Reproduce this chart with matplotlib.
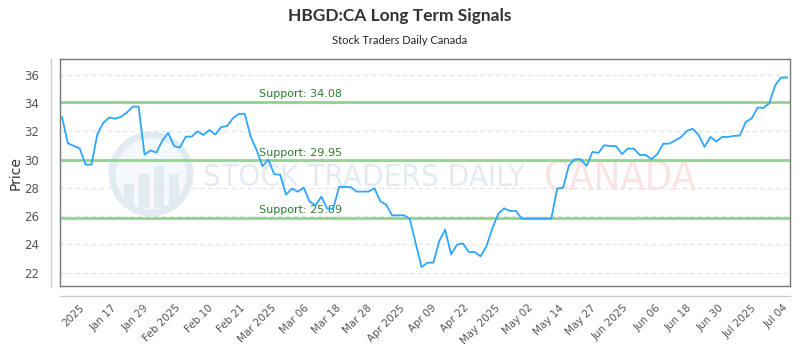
import matplotlib
matplotlib.use("Agg")
import matplotlib.pyplot as plt
import numpy as np
from matplotlib.patches import Ellipse, Rectangle
from matplotlib.lines import Line2D

prices = [
    33.0, 31.16, 30.97, 30.8, 29.65, 29.65, 31.8, 32.6, 32.98, 32.9,
    33.03, 33.33, 33.75, 33.75, 30.35, 30.65, 30.5, 31.33, 31.9, 30.97,
    30.85, 31.63, 31.63, 32.0, 31.75, 32.1, 31.78, 32.3, 32.38, 32.93,
    33.24, 33.24, 31.63, 30.7, 29.53, 30.0, 28.96, 28.94, 27.52, 27.96,
    27.73, 28.02, 27.03, 26.77, 27.38, 26.53, 26.53, 28.07, 28.07, 28.05,
    27.74, 27.74, 27.74, 27.97, 27.05, 26.81, 26.06, 26.06, 26.06, 25.82,
    24.08, 22.4, 22.71, 22.71, 24.24, 25.04, 23.3, 23.98, 24.08, 23.47,
    23.47, 23.16, 23.87, 25.14, 26.16, 26.56, 26.37, 26.37, 25.82, 25.82,
    25.82, 25.82, 25.82, 25.82, 27.95, 28.02, 29.6, 30.03, 30.03, 29.56,
    30.55, 30.48, 31.02, 30.97, 30.95, 30.4, 30.78, 30.78, 30.33, 30.33,
    30.03, 30.4, 31.13, 31.13, 31.35, 31.59, 32.03, 32.18, 31.75, 30.9,
    31.61, 31.28, 31.61, 31.61, 31.68, 31.7, 32.67, 32.91, 33.69, 33.66,
    34.0, 35.27, 35.81, 35.81,
]
support_levels = [34.08, 29.95, 25.89]
support_labels = ["Support: 34.08", "Support: 29.95", "Support: 25.89"]
x_tick_labels = [
    "2025", "Jan 17", "Jan 29", "Feb 2025", "Feb 10", "Feb 21", "Mar 2025",
    "Mar 06", "Mar 18", "Mar 28", "Apr 2025", "Apr 09", "Apr 22", "May 2025",
    "May 02", "May 14", "May 27", "Jun 2025", "Jun 06", "Jun 18", "Jun 30",
    "Jul 2025", "Jul 04",
]
y_ticks = [22, 24, 26, 28, 30, 32, 34, 36]

W, H = 800, 350
fig = plt.figure(figsize=(8, 3.5), dpi=100)
ax = fig.add_axes([60 / W, 1 - 286 / H, 730 / W, (286 - 59.3) / H])
ax.set_zorder(2)
ax.set_facecolor("none")

x = np.arange(len(prices))

# watermark (background decoration, behind the axes)
wm_c = "#e3ebf2"
fig.patches.append(Ellipse((151 / W, 1 - 174 / H), 78 / W, 78 / H, transform=fig.transFigure,
                           facecolor="#f6f9fb", edgecolor=wm_c, lw=5, zorder=0))
for bx, bh in [(124, 24), (139, 34), (154, 42), (169, 34)]:
    fig.patches.append(Rectangle((bx / W, 1 - 208 / H), 10 / W, bh / H,
                                 transform=fig.transFigure, facecolor=wm_c,
                                 edgecolor="none", zorder=0))
fig.lines.append(Line2D([118 / W, 140 / W, 158 / W, 184 / W],
                        [1 - 180 / H, 1 - 168 / H, 1 - 174 / H, 1 - 156 / H],
                        transform=fig.transFigure, color=wm_c, lw=3, zorder=0))
wm1 = fig.text(203 / W, 1 - 178 / H, "STOCK TRADERS DAILY", fontsize=28,
               family=["DejaVu Sans"], fontstretch="condensed", color="#e3ebf2",
               ha="left", va="center", zorder=0)
wm2 = fig.text(544 / W, 1 - 180 / H, "CANADA", fontsize=26,
               family=["DejaVu Sans"], fontstretch="condensed", color="#fbe4e4",
               ha="left", va="center", zorder=0)

for lvl in y_ticks:
    ax.axhline(lvl, color="#e4e4e4", lw=0.8, ls=(0, (4, 3)), zorder=1)

for lvl, lab in zip(support_levels, support_labels):
    ax.axhline(lvl, color="#94d294", lw=2.0, zorder=2)
    ax.text(33.5, lvl + 0.2, lab, color="#2e7d32", fontsize=8,
            ha="left", va="bottom", zorder=3)

ax.plot(x, prices, color="#2ea6ff", lw=1.3, zorder=4)

ax.set_xlim(-0.34, 123.5)
ax.set_ylim(21.06, 37.1)
ax.set_yticks(y_ticks)
ax.set_yticklabels([str(v) for v in y_ticks], fontsize=8.5, color="#555555")
ax.set_xticks(np.linspace(3.0, 122.3, len(x_tick_labels)))
ax.set_xticklabels(x_tick_labels, rotation=45, ha="right", rotation_mode="anchor",
                   fontsize=7.5, color="#555555")
ax.tick_params(axis="both", length=0)
ax.tick_params(axis="y", pad=15)
ax.tick_params(axis="x", pad=12)
for s in ax.spines.values():
    s.set_color("#777777")
    s.set_linewidth(1.0)

ax.set_ylabel("Price", fontsize=10, color="#333333", labelpad=1)

# offset axis lines
fig.lines.append(Line2D([50.7 / W, 50.7 / W], [1 - 59.3 / H, 1 - 286 / H],
                        transform=fig.transFigure, color="#cccccc", lw=1))
fig.lines.append(Line2D([60 / W, 790 / W], [1 - 296 / H, 1 - 296 / H],
                        transform=fig.transFigure, color="#cccccc", lw=1))

fig.text(0.5, 1 - 16 / H, "HBGD:CA Long Term Signals", ha="center", va="center",
         fontsize=12.5, fontweight="bold", color="#333333",
         family=["Lato", "DejaVu Sans"])
fig.text(0.5, 1 - 40 / H, "Stock Traders Daily Canada", ha="center", va="center",
         fontsize=8, color="#222222",
         family=["Lato", "DejaVu Sans"])

# fit watermark widths to the reference
fig.canvas.draw()
r = fig.canvas.get_renderer()
for t, target in [(wm1, 322), (wm2, 152)]:
    w = t.get_window_extent(r).width
    t.set_fontsize(t.get_fontsize() * target / w)

fig.savefig("out.png", dpi=100)
